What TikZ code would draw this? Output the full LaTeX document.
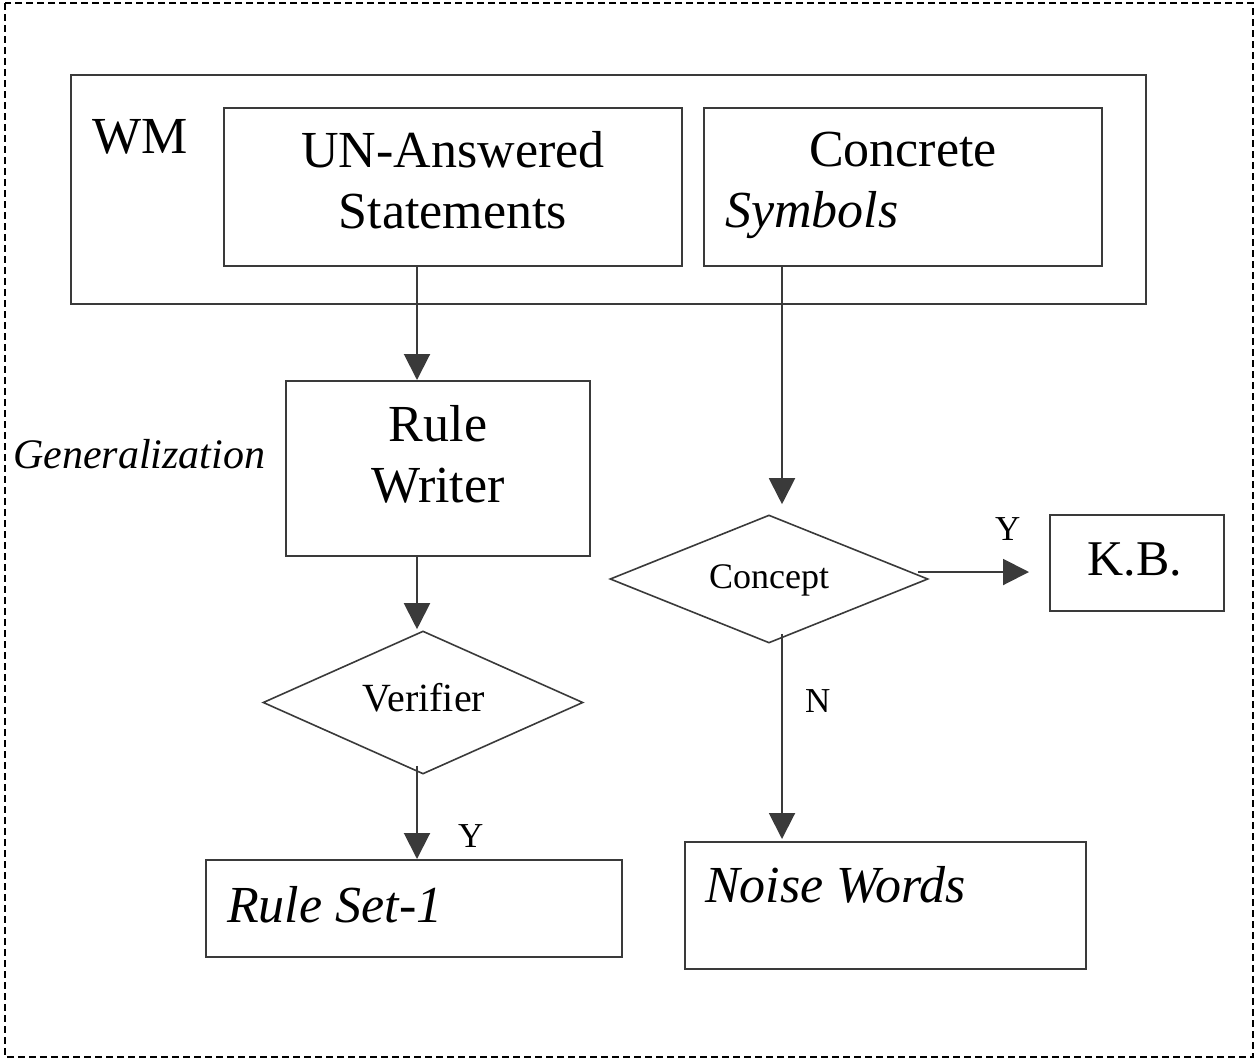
\documentclass[tikz,border=0pt]{standalone}
\usepackage{fontspec}
\setmainfont{Liberation Serif}
\usetikzlibrary{shapes.geometric,arrows.meta}
\definecolor{ln}{HTML}{3A3A3A}
\begin{document}
\begin{tikzpicture}[x=1pt,y=-1pt,
  box/.style={draw=ln,line width=2pt,rectangle,inner sep=0pt},
  dia/.style={draw=ln,line width=1.6pt,diamond,inner sep=0pt},
  arr/.style={draw=ln,line width=2pt,-{Triangle[width=26pt,length=26pt]}},
  conn/.style={draw=ln,line width=2pt},
  big/.style={font=\fontsize{52}{61}\selectfont,inner sep=0pt,anchor=base},
  mid/.style={inner sep=0pt,anchor=base},
  lbl/.style={font=\fontsize{35}{42}\selectfont,inner sep=0pt,anchor=base west}]
\useasboundingbox (0,0) rectangle (1258,1061);
\draw[dash pattern=on 7pt off 4pt,line width=1.8pt] (5,3) rectangle (1253,1057);
% boxes
\node[box,minimum width=1075pt,minimum height=229pt] (wm) at (608.5,189.5) {};
\node[box,minimum width=458pt,minimum height=158pt] (una) at (453,187) {};
\node[box,minimum width=398pt,minimum height=158pt] (con) at (903,187) {};
\node[box,minimum width=304pt,minimum height=175pt] (rw) at (438,468.5) {};
\node[dia,minimum width=320pt,minimum height=143pt] (ver) at (423,702.5) {};
\node[box,minimum width=416pt,minimum height=97pt] (rs) at (414,908.5) {};
\node[dia,minimum width=318pt,minimum height=128pt] (cpt) at (769,579) {};
\node[box,minimum width=174pt,minimum height=96pt] (kb) at (1137,563) {};
\node[box,minimum width=401pt,minimum height=127pt] (nw) at (885.5,905.5) {};
% texts
\node[big] (twm) at (140,153) {WM};
\node[big] (tuna1) at (453,167) {UN-Answered};
\node[big] (tuna2) at (453,228) {Statements};
\node[big] (tcon1) at (903,166) {Concrete};
\node[big,anchor=base west] (tcon2) at (725,227) {\itshape Symbols};
\node[big] (trw1) at (438,441) {Rule};
\node[big] (trw2) at (438,502) {Writer};
\node[mid,font=\fontsize{40}{48}\selectfont] (tver) at (424,711) {Verifier};
\node[mid,font=\fontsize{36}{43}\selectfont] (tcpt) at (769,588) {Concept};
\node[big,anchor=base west] (trs) at (227,922) {\itshape Rule Set-1};
\node[big,anchor=base west] (tnw) at (705,902) {\itshape Noise Words};
\node[big,font=\fontsize{50}{60}\selectfont] (tkb) at (1135,575) {K.B.};
\node[mid,anchor=base west,font=\fontsize{42}{50}\selectfont] (tgen) at (13,468) {\itshape Generalization};
\node[lbl] (ly1) at (458,847) {Y};
\node[lbl] (ly2) at (995,540) {Y};
\node[lbl] (ln1) at (805,712) {N};
% connectors
\draw[arr] ([xshift=-36pt]una.south) -- ([xshift=-21pt]rw.north);
\draw[arr] ([xshift=-21pt]rw.south) -- ([xshift=-6pt,yshift=1pt]ver.north);
\draw[arr] ([xshift=-6pt,yshift=9pt]ver.south) -- ([xshift=3pt]rs.north);
\draw[arr] ([xshift=-121pt]con.south) -- ([xshift=13pt,yshift=10pt]cpt.north);
\draw[arr] ([xshift=-11pt,yshift=7pt]cpt.east) -- ([xshift=-20pt,yshift=-9pt]kb.west);
\draw[arr] ([xshift=13pt,yshift=10pt]cpt.south) -- ([xshift=-103.5pt,yshift=2pt]nw.north);
\end{tikzpicture}
\end{document}
